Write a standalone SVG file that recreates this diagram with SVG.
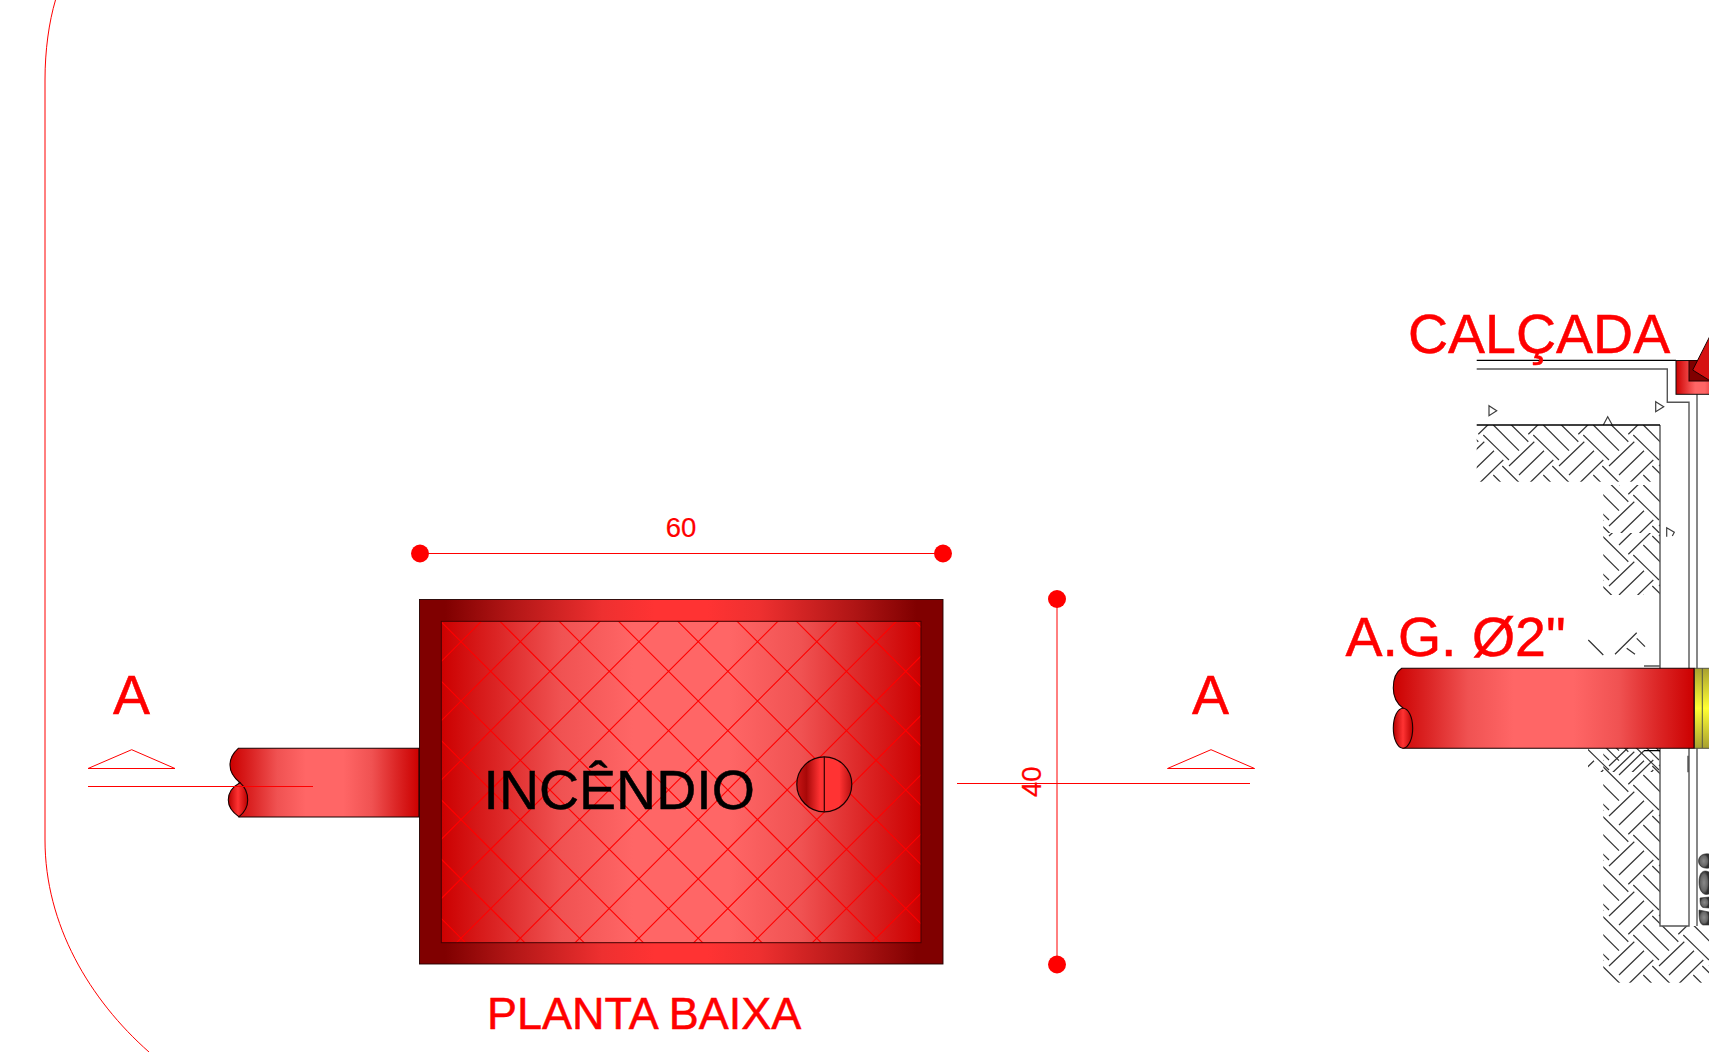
<svg xmlns="http://www.w3.org/2000/svg" xmlns:xlink="http://www.w3.org/1999/xlink" width="1709" height="1052" viewBox="0 0 1709 1052">
<style>
text{font-family:"Liberation Sans",Arial,sans-serif}
.r{fill:#f00;stroke:#f00;stroke-width:.5}
.big{font-size:55.5px}
.dim{font-size:27.5px;fill:#f00;stroke:#f00;stroke-width:.2}
.red{fill:none;stroke:#f00;stroke-width:1}
.ol{stroke:#1a0000;stroke-width:1.1}
.wall{fill:none;stroke:#555;stroke-width:1.4}
.blk{fill:none;stroke:#000;stroke-width:1.3}
.hb{fill:none;stroke:#333;stroke-width:1.2}
.tri{fill:none;stroke:#3d3d3d;stroke-width:1.2}
.dot{fill:#f00}
</style>
<defs>
<linearGradient id="gFrame" gradientUnits="userSpaceOnUse" x1="419" x2="943" y1="0" y2="0"><stop offset="0" stop-color="#800000"/><stop offset=".05" stop-color="#800000"/><stop offset=".17" stop-color="#b01515"/><stop offset=".35" stop-color="#ee3030"/><stop offset=".45" stop-color="#ff3333"/><stop offset=".55" stop-color="#ff3333"/><stop offset=".65" stop-color="#ee3030"/><stop offset=".83" stop-color="#b01515"/><stop offset=".95" stop-color="#800000"/><stop offset="1" stop-color="#800000"/></linearGradient>
<linearGradient id="gLid" gradientUnits="userSpaceOnUse" x1="441" x2="921" y1="0" y2="0"><stop offset="0" stop-color="#cc0000"/><stop offset=".12" stop-color="#dc2626"/><stop offset=".25" stop-color="#f05252"/><stop offset=".4" stop-color="#ff6666"/><stop offset=".6" stop-color="#ff6666"/><stop offset=".75" stop-color="#f05252"/><stop offset=".88" stop-color="#dc2626"/><stop offset="1" stop-color="#cc0000"/></linearGradient>
<linearGradient id="gPipeL" gradientUnits="userSpaceOnUse" x1="230" x2="419" y1="0" y2="0"><stop offset="0" stop-color="#cc0000"/><stop offset=".12" stop-color="#dc2626"/><stop offset=".25" stop-color="#f05252"/><stop offset=".4" stop-color="#ff6666"/><stop offset=".6" stop-color="#ff6666"/><stop offset=".75" stop-color="#f05252"/><stop offset=".88" stop-color="#dc2626"/><stop offset="1" stop-color="#cc0000"/></linearGradient>
<linearGradient id="gPipeR" gradientUnits="userSpaceOnUse" x1="1393" x2="1694" y1="0" y2="0"><stop offset="0" stop-color="#cc0000"/><stop offset=".12" stop-color="#dc2626"/><stop offset=".25" stop-color="#f05252"/><stop offset=".4" stop-color="#ff6666"/><stop offset=".6" stop-color="#ff6666"/><stop offset=".75" stop-color="#f05252"/><stop offset=".88" stop-color="#dc2626"/><stop offset="1" stop-color="#cc0000"/></linearGradient>
<linearGradient id="gCollar" gradientUnits="userSpaceOnUse" x1="1676" x2="1724" y1="0" y2="0"><stop offset="0" stop-color="#cc0000"/><stop offset=".4" stop-color="#ff6666"/><stop offset=".6" stop-color="#ff6666"/><stop offset="1" stop-color="#cc0000"/></linearGradient>
<linearGradient id="gLens"><stop offset="0" stop-color="#b80000"/><stop offset=".5" stop-color="#ff3333"/><stop offset="1" stop-color="#b80000"/></linearGradient>
<linearGradient id="gHoleL"><stop offset="0" stop-color="#c81515"/><stop offset=".35" stop-color="#a80808"/><stop offset=".85" stop-color="#ff3333"/><stop offset="1" stop-color="#ff3333"/></linearGradient>
<linearGradient id="gHoleR"><stop offset="0" stop-color="#ff3333"/><stop offset=".55" stop-color="#ff3333"/><stop offset="1" stop-color="#b81010"/></linearGradient>
<linearGradient id="gYel" x1="0" x2="0" y1="0" y2="1"><stop offset="0" stop-color="#a8a030"/><stop offset=".5" stop-color="#ffff33"/><stop offset="1" stop-color="#a8a030"/></linearGradient>
<radialGradient id="gRock"><stop offset="0" stop-color="#8a8a8a"/><stop offset=".7" stop-color="#666"/><stop offset="1" stop-color="#2e2e2e"/></radialGradient>
<clipPath id="cLid"><rect x="441.3" y="621.3" width="479.7" height="321.4"/></clipPath>
<g id="hbSeg"><path class="hb" d="M9 26L34.3 1.7M19 35L44 10.7M28.3 44.3L53.3 20M33.3 45L59 70M43.3 35L69 60.7M52.3 26L78.3 51.7"/></g>
<pattern id="hb0" patternUnits="userSpaceOnUse" width="50" height="50" patternTransform="translate(1600 840)"><use xlink:href="#hbSeg"/><use xlink:href="#hbSeg" x="-50"/><use xlink:href="#hbSeg" y="-50"/><use xlink:href="#hbSeg" x="-50" y="-50"/></pattern>
<pattern id="hb10" patternUnits="userSpaceOnUse" width="50" height="50" patternTransform="translate(1600 850)"><use xlink:href="#hbSeg"/><use xlink:href="#hbSeg" x="-50"/><use xlink:href="#hbSeg" y="-50"/><use xlink:href="#hbSeg" x="-50" y="-50"/></pattern>
<pattern id="hb20" patternUnits="userSpaceOnUse" width="50" height="50" patternTransform="translate(1600 860)"><use xlink:href="#hbSeg"/><use xlink:href="#hbSeg" x="-50"/><use xlink:href="#hbSeg" y="-50"/><use xlink:href="#hbSeg" x="-50" y="-50"/></pattern>
</defs>

<rect width="1709" height="1052" fill="#fff"/>

<g id="border"><path class="red" d="M55.5 0C49 22 45 50 45 80V840C45 925 90 1000 149 1052"/></g>

<g id="pipe-left">
<path class="ol" fill="url(#gPipeL)" d="M238.3 748.300H419V817H239V783L240 782.700C233 777 230 772 230 765C230 758 233 753 238.300 748.300Z"/>
<path class="ol" fill="url(#gLens)" d="M240 782.700C232 787 228.300 793 228.300 800C228.300 807 232 812 239 816.700C245 812 247.700 807 247.700 800C247.700 793 245 787 240 782.700Z"/>
</g>

<g id="caixa">
<rect x="419.500" y="599.500" width="523.500" height="364.500" fill="url(#gFrame)" stroke="#200" stroke-width=".9"/>
<rect x="441.300" y="621.300" width="479.700" height="321.400" fill="url(#gLid)"/>
<path clip-path="url(#cLid)" fill="none" stroke="#f00" stroke-width="1.100" d="M122.800 600l360 360M182.100 600l360 360M241.400 600l360 360M300.700 600l360 360M360 600l360 360M419.300 600l360 360M478.600 600l360 360M537.900 600l360 360M597.200 600l360 360M656.500 600l360 360M715.800 600l360 360M775.100 600l360 360M834.400 600l360 360M893.700 600l360 360M443.400 600l-360 360M502.700 600l-360 360M562 600l-360 360M621.300 600l-360 360M680.600 600l-360 360M739.900 600l-360 360M799.200 600l-360 360M858.500 600l-360 360M917.800 600l-360 360M977.100 600l-360 360M1036.400 600l-360 360M1095.700 600l-360 360M1155 600l-360 360M1214.300 600l-360 360M1273.600 600l-360 360"/>
<rect x="441.300" y="621.300" width="479.700" height="321.400" fill="none" stroke="#400" stroke-width="1"/>
<text x="483.500" y="808.500" font-size="55.500" fill="#000" stroke="#000" stroke-width=".5">INCÊNDIO</text>
</g>

<g id="furo">
<path fill="url(#gHoleL)" d="M824.300 756.800A27.500 27.500 0 0 0 824.300 811.800Z"/>
<path fill="url(#gHoleR)" d="M824.300 756.800A27.500 27.500 0 0 1 824.300 811.800Z"/>
<circle cx="824.300" cy="784.300" r="27.500" fill="none" stroke="#1a0000" stroke-width="1.200"/>
<path d="M824.300 756.800V811.800" stroke="#300" stroke-width="1.200"/>
</g>

<g id="solo">
<rect x="1476.700" y="425" width="183.300" height="56.700" fill="url(#hb0)"/>
<rect x="1603.300" y="485" width="56.700" height="48" fill="url(#hb10)"/>
<rect x="1603.300" y="533" width="56.700" height="62" fill="url(#hb20)"/>
<rect x="1603.300" y="748" width="56.700" height="178" fill="url(#hb0)"/>
<rect x="1588" y="748" width="72" height="24" fill="url(#hb10)"/>
<rect x="1603.300" y="926" width="105.700" height="56.700" fill="url(#hb0)"/>
<path class="hb" d="M1588.300 640L1603.300 655M1615 654.300L1636.700 632.700M1626.700 648.300L1635 654.300M1636.700 638.300L1645 646.700"/>
<path class="tri" d="M1489 405.700L1496.700 410.700L1489 415.700ZM1655.700 401.700L1663.700 406.700L1655.700 411.700ZM1603.300 425L1607.700 416.700L1612.300 425M1666.700 536.700V527.700L1674.300 532.300L1672.300 536"/>
</g>

<g id="parede">
<path class="wall" d="M1476.700 369H1667.300V402.300H1689V926H1660V425M1697 394V926M1644 666H1660M1688 755.700V772.300"/>
<path class="blk" d="M1476.700 360.300H1676M1476.700 425H1660M1644 750.700H1660"/>
</g>

<g id="brita">
<path fill="url(#gRock)" stroke="#333" stroke-width=".6" d="M1709 854C1703 853 1698.500 856 1698.500 861C1698.500 866 1703 869 1709 868Z"/>
<path fill="url(#gRock)" stroke="#333" stroke-width=".6" d="M1709 872C1703 869 1699 873 1699 882C1699 891 1703 896 1709 894Z"/>
<path fill="url(#gRock)" stroke="#333" stroke-width=".6" d="M1700 898L1709 897V908L1703 907.500C1700 906 1700 902 1700 898Z"/>
<path fill="url(#gRock)" stroke="#333" stroke-width=".6" d="M1699 910L1709 912V925H1703C1699 924 1699 916 1699 910Z"/>
</g>

<g id="colar">
<rect x="1676" y="360.500" width="40" height="33.800" fill="url(#gCollar)" stroke="#111" stroke-width="1"/>
<rect x="1689" y="360.500" width="27" height="20.500" fill="#800000" stroke="#200" stroke-width="1"/>
<path d="M1712 332L1692.700 370L1712 382Z" fill="#d61212" stroke="#200" stroke-width="1"/>
</g>

<g id="pipe-right">
<rect x="1694.500" y="668.300" width="20" height="80" fill="url(#gYel)" stroke="#554" stroke-width="1"/>
<path d="M1702.300 668V748" stroke="#554" stroke-width="1"/>
<path class="ol" fill="url(#gPipeR)" d="M1401.700 668.300H1694V748.300H1403V708C1396 703 1393.300 696 1393.300 688C1393.300 680 1396 672 1401.700 668.300Z"/>
<ellipse cx="1403" cy="728.200" rx="9.700" ry="20" fill="url(#gLens)" class="ol"/>
</g>

<g id="connectors">
<path class="red" d="M420 553.500H943"/>
<circle class="dot" cx="420" cy="553.500" r="9"/>
<circle class="dot" cx="943" cy="553.500" r="9"/>
<path class="red" d="M1057 599V964"/>
<circle class="dot" cx="1057" cy="599" r="9"/>
<circle class="dot" cx="1057" cy="964.500" r="9"/>
<path class="red" d="M957 783.500H1250"/>
<path class="red" d="M88 786.500H313"/>
<path class="red" d="M88 768.500H175L131.700 749.700Z"/>
<path class="red" d="M1167.500 768.500H1254.600L1211 749.700Z"/>
</g>

<g id="labels">
<text class="r big" x="131.500" y="713.500" text-anchor="middle">A</text>
<text class="r big" x="1210.500" y="713.500" text-anchor="middle">A</text>
<text class="r big" x="1408" y="352.500">CALÇADA</text>
<text class="r big" x="1345.500" y="655.500">A.G. Ø2"</text>
<text class="r" x="487" y="1028.500" font-size="45">PLANTA BAIXA</text>
<text class="dim" x="681" y="537" text-anchor="middle">60</text>
<text class="dim" transform="translate(1041 781.700) rotate(-90)" text-anchor="middle">40</text>
</g>
</svg>
